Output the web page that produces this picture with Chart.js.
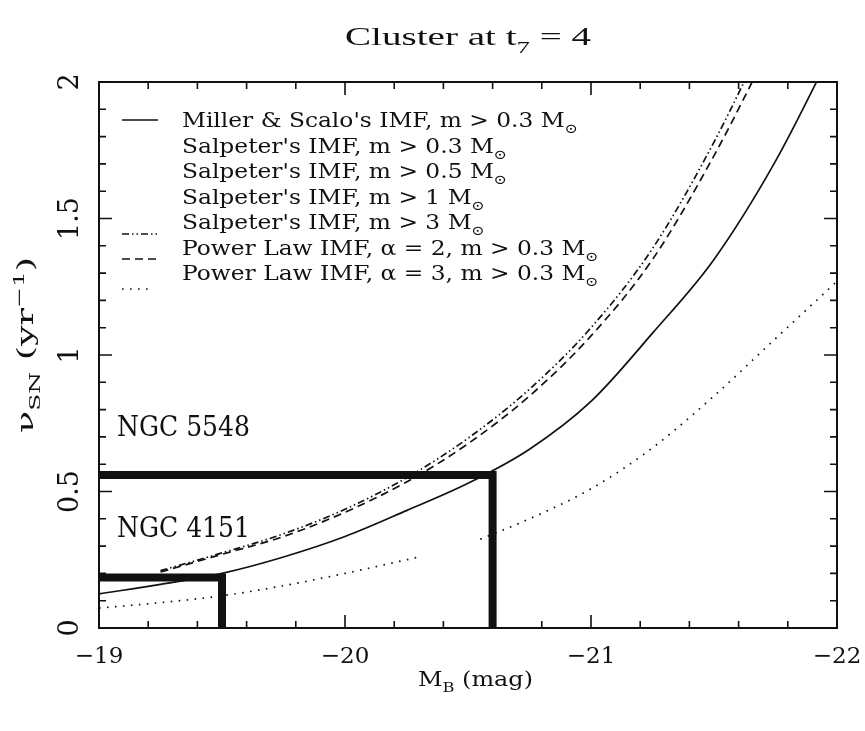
<!DOCTYPE html>
<html lang="en">
<head>
  <meta charset="UTF-8">
  <title>Cluster at t7 = 4</title>
  <script src="https://cdn.jsdelivr.net/npm/chart.js"></script>
  <style>
    body { margin: 0; background: #fff; }
    #wrap { width: 865px; height: 731px; }
  </style>
</head>
<body>
  <div id="wrap"><canvas id="chart" width="865" height="731"></canvas></div>

  <script>
    // axis ticks
    const xTicks = [-19, -20, -21, -22];
    const yTicks = [0, 0.5, 1, 1.5, 2];

    // Miller & Scalo's IMF, m > 0.3 Msun (solid)
    const msMag = [-19, -19.25, -19.5, -19.75, -20, -20.25, -20.5, -20.75, -21, -21.25, -21.5, -21.75, -22];
    const msRate = [0.125, 0.16, 0.20, 0.26, 0.335, 0.43, 0.53, 0.655, 0.83, 1.08, 1.35, 1.71, 2.15];

    // Salpeter's IMF, m > 3 Msun (dash-dot-dot)
    const salp3Mag = [-19.25, -19.5, -19.75, -20, -20.25, -20.5, -20.75, -21, -21.25, -21.5, -21.75];
    const salp3Rate = [0.21, 0.275, 0.345, 0.435, 0.55, 0.695, 0.875, 1.10, 1.39, 1.78, 2.24];

    // Power law IMF, alpha = 2 (dashed)
    const pl2Mag = [-19.25, -19.5, -19.75, -20, -20.25, -20.5, -20.75, -21, -21.25, -21.5, -21.75];
    const pl2Rate = [0.205, 0.27, 0.335, 0.424, 0.535, 0.675, 0.85, 1.07, 1.35, 1.73, 2.17];

    // Power law IMF, alpha = 3 (dotted, broken near -20.4)
    const pl3Mag = [-19, -19.25, -19.5, -19.75, -20, -20.3, -20.42, -20.55, -20.75, -21, -21.25, -21.5, -21.75, -22];
    const pl3Rate = [0.073, 0.093, 0.118, 0.155, 0.2, 0.26, null, 0.325, 0.40, 0.51, 0.66, 0.85, 1.06, 1.27];

    // observed galaxies (thick boxes)
    const obsName = ['NGC 4151', 'NGC 5548'];
    const obsMag = [-19.5, -20.6];
    const obsRate = [0.185, 0.56];

    const legendLabels = [
      "Miller & Scalo's IMF, m > 0.3 M",
      "Salpeter's IMF, m > 0.3 M",
      "Salpeter's IMF, m > 0.5 M",
      "Salpeter's IMF, m > 1 M",
      "Salpeter's IMF, m > 3 M",
      "Power Law IMF, \u03b1 = 2, m > 0.3 M",
      "Power Law IMF, \u03b1 = 3, m > 0.3 M"
    ];

    const SERIF = '"DejaVu Serif", serif';
    const INK = '#111';
    const dashSalp = [7, 3, 1.5, 3, 1.5, 3];
    const dashPl2 = [8, 5];
    const dashPl3 = [1.6, 6.4];

    function pts(xs, ys) {
      return xs.map((x, i) => ({ x: x, y: ys[i] }));
    }

    function curve(xs, ys, dash) {
      return {
        data: pts(xs, ys),
        borderColor: INK,
        borderWidth: 1.7,
        borderDash: dash,
        pointRadius: 0,
        cubicInterpolationMode: 'monotone',
        spanGaps: false,
        clip: 0
      };
    }

    const datasets = [
      curve(msMag, msRate, []),
      curve(salp3Mag, salp3Rate, dashSalp),
      curve(pl2Mag, pl2Rate, dashPl2),
      curve(pl3Mag, pl3Rate, dashPl3)
    ];
    obsMag.forEach((m, i) => {
      datasets.push({
        data: [{ x: xTicks[0], y: obsRate[i] }, { x: m, y: obsRate[i] }, { x: m, y: 0 }],
        borderColor: INK,
        borderWidth: 8,
        pointRadius: 0,
        tension: 0,
        borderJoinStyle: 'miter',
        clip: 0
      });
    });

    // text with sub/superscript pieces, optionally squeezed to a width
    function richWidth(ctx, segs, size, family) {
      let w = 0;
      segs.forEach(([t, m]) => {
        ctx.font = (m ? size * 0.68 : size) + 'px ' + family;
        w += ctx.measureText(t).width;
      });
      return w;
    }
    function drawRich(ctx, segs, x, y, size, family, sx) {
      ctx.save();
      ctx.translate(x, y);
      ctx.scale(sx || 1, 1);
      ctx.textAlign = 'left';
      ctx.textBaseline = 'alphabetic';
      let cx = 0;
      segs.forEach(([t, m]) => {
        const s = m ? size * 0.68 : size;
        ctx.font = s + 'px ' + family;
        const dy = m === 'sub' ? size * 0.32 : m === 'sup' ? -size * 0.42 : 0;
        ctx.fillText(t, cx, dy);
        cx += ctx.measureText(t).width;
      });
      ctx.restore();
    }

    const frame = {
      id: 'frame',
      afterDatasetsDraw(chart) {
        const { ctx, chartArea: a, scales } = chart;
        const xs = scales.x, ys = scales.y;
        ctx.save();
        ctx.strokeStyle = INK;
        ctx.fillStyle = INK;

        // box
        ctx.lineWidth = 2;
        ctx.strokeRect(a.left, a.top, a.right - a.left, a.bottom - a.top);

        // ticks, inward on all four sides
        ctx.lineWidth = 1.6;
        ctx.beginPath();
        for (let i = 0; i <= 15; i++) {
          const px = xs.getPixelForValue(-19 - i * 0.2);
          const len = i % 5 === 0 ? 13 : 7;
          ctx.moveTo(px, a.bottom); ctx.lineTo(px, a.bottom - len);
          ctx.moveTo(px, a.top); ctx.lineTo(px, a.top + len);
        }
        for (let i = 0; i <= 20; i++) {
          const py = ys.getPixelForValue(i * 0.1);
          const len = i % 5 === 0 ? 13 : 7;
          ctx.moveTo(a.left, py); ctx.lineTo(a.left + len, py);
          ctx.moveTo(a.right, py); ctx.lineTo(a.right - len, py);
        }
        ctx.stroke();

        // tick labels
        ctx.font = '23px ' + SERIF;
        ctx.textAlign = 'center';
        ctx.textBaseline = 'alphabetic';
        xTicks.forEach(v => {
          ctx.fillText('\u2212' + Math.abs(v), xs.getPixelForValue(v), 663);
        });
        ctx.font = '27px ' + SERIF;
        yTicks.forEach(v => {
          ctx.save();
          ctx.translate(78, ys.getPixelForValue(v));
          ctx.rotate(-Math.PI / 2);
          ctx.fillText(String(v), 0, 0);
          ctx.restore();
        });

        // title and axis titles
        const tSegs = [['Cluster at t'], ['7', 'sub'], [' = 4']];
        const tFam = '"Liberation Serif", serif';
        let w = richWidth(ctx, tSegs, 26, tFam);
        drawRich(ctx, tSegs, 468 - 123, 45, 26, tFam, 246 / w);

        const xSegs = [['M'], ['B', 'sub'], [' (mag)']];
        w = richWidth(ctx, xSegs, 20, SERIF);
        drawRich(ctx, xSegs, 418, 686, 20, SERIF, 115 / w);

        const ySegs = [['\u03bd'], ['SN', 'sub'], [' (yr'], ['\u22121', 'sup'], [')']];
        w = richWidth(ctx, ySegs, 22, SERIF);
        ctx.save();
        ctx.translate(33, 345);
        ctx.rotate(-Math.PI / 2);
        drawRich(ctx, ySegs, -88, 0, 22, SERIF, 176 / w);
        ctx.restore();

        // galaxy labels
        ctx.font = '27px ' + SERIF;
        ctx.textAlign = 'left';
        const nameY = [537, 436];
        obsName.forEach((n, i) => {
          const nw = ctx.measureText(n).width;
          ctx.save();
          ctx.translate(117, nameY[i]);
          ctx.scale(133 / nw, 1);
          ctx.fillText(n, 0, 0);
          ctx.restore();
        });

        // legend inside the frame
        const lSize = 20;
        const rows = legendLabels.map(t => [[t], ['\u2299', 'sub']]);
        const sx = 396 / richWidth(ctx, rows[0], lSize, SERIF);
        rows.forEach((segs, i) => {
          drawRich(ctx, segs, 182, 127 + i * 25.5, lSize, SERIF, sx);
        });
        const samples = [
          { y: 120, x2: 158, dash: [] },
          { y: 234, x2: 158, dash: dashSalp },
          { y: 259, x2: 158, dash: dashPl2 },
          { y: 289, x2: 150, dash: dashPl3 }
        ];
        ctx.lineWidth = 1.6;
        samples.forEach(s => {
          ctx.setLineDash(s.dash);
          ctx.beginPath();
          ctx.moveTo(122, s.y);
          ctx.lineTo(s.x2, s.y);
          ctx.stroke();
        });
        ctx.setLineDash([]);
        ctx.restore();
      }
    };

    new Chart(document.getElementById('chart'), {
      type: 'line',
      data: { datasets: datasets },
      options: {
        responsive: false,
        animation: false,
        layout: { padding: { left: 99, right: 28, top: 82, bottom: 103 } },
        plugins: { legend: { display: false }, tooltip: { enabled: false }, title: { display: false } },
        scales: {
          x: { type: 'linear', min: -22, max: -19, reverse: true, display: false },
          y: { type: 'linear', min: 0, max: 2, display: false }
        }
      },
      plugins: [frame]
    });
  </script>
</body>
</html>
